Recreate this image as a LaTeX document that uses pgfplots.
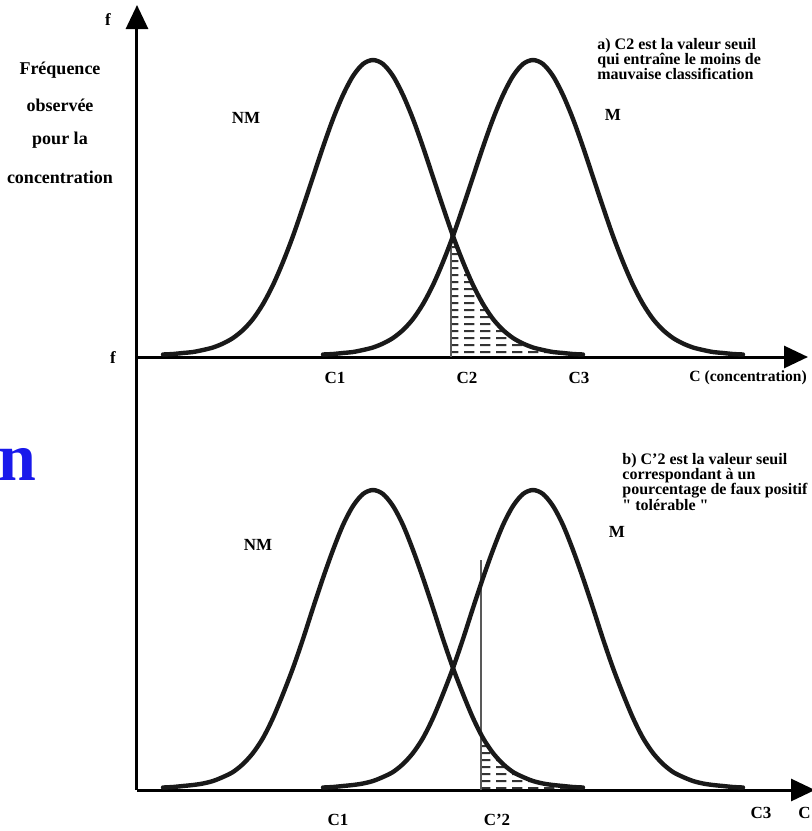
\documentclass[border=0pt]{standalone}
\usepackage{fontspec}
\setmainfont{Liberation Serif}
\usepackage{pgfplots}
\pgfplotsset{compat=1.18}
\usetikzlibrary{arrows.meta,patterns}

% short horizontal dashes for the shaded error areas
\pgfdeclarepatternformonly{hdash}{\pgfpointorigin}{\pgfqpoint{8pt}{3.4pt}}{\pgfqpoint{8pt}{3.4pt}}{%
  \pgfpathrectangle{\pgfqpoint{0pt}{1pt}}{\pgfqpoint{5.5pt}{1pt}}\pgfusepath{fill}}

\definecolor{slideblue}{RGB}{25,25,235}
\tikzset{
  lbl/.style={font=\fontsize{8.5}{9}\selectfont\bfseries},
  big/.style={font=\fontsize{9}{9}\selectfont\bfseries},
  note/.style={font=\fontsize{8}{7.6}\selectfont\bfseries, align=left, anchor=north west, inner sep=0pt}
}
\pgfplotsset{
  panel/.style={scale only axis, axis lines=left, xtick=\empty, ytick=\empty,
    xmin=0, ymin=0, clip=false,
    axis line style={line width=1.5pt, -{Triangle[length=12pt,width=11pt]}}},
  curve/.style={smooth, mark=none, line width=2.2pt, color=black!90, line cap=round},
  seuil/.style={mark=none, line width=0.9pt, color=gray!70!black},
  hatch/.style={draw=none, pattern=hdash, pattern color=black!80}
}

\begin{document}
\begin{tikzpicture}

% ---------- a) ----------
\begin{axis}[panel, at={(0,0)}, anchor=south west,
    width=335.5pt, height=176pt, xmax=671, ymax=352]

\addplot[hatch] coordinates {
  (314,0)(314,125)(316,121)(326,95)(336,72)(346,53)(356,38)(366,27)(376,19)
  (386,13.5)(396,9.5)(406,7)(416,5)(426,4)(436,3)(446,2.5)(446,0)} \closedcycle;
\addplot[seuil] coordinates {(314,0)(314,125)};

% NM
\addplot[curve] coordinates {
  (26,2.5)(36,3)(46,4)(56,5)(66,7)(76,9.5)(86,13.5)(96,19)(106,27)(116,38)
  (126,53)(136,72)(146,95)(156,121)(166,150)(176,180)(186,210)(196,238)(206,262)
  (216,281)(226,293)(236,297)(246,293)(256,281)(266,262)(276,238)(286,210)
  (296,180)(306,150)(316,121)(326,95)(336,72)(346,53)(356,38)(366,27)(376,19)
  (386,13.5)(396,9.5)(406,7)(416,5)(426,4)(436,3)(446,2.5)};
% M
\addplot[curve] coordinates {
  (186,2.5)(196,3)(206,4)(216,5)(226,7)(236,9.5)(246,13.5)(256,19)(266,27)(276,38)
  (286,53)(296,72)(306,95)(316,121)(326,150)(336,180)(346,210)(356,238)(366,262)
  (376,281)(386,293)(396,297)(406,293)(416,281)(426,262)(436,238)(446,210)
  (456,180)(466,150)(476,121)(486,95)(496,72)(506,53)(516,38)(526,27)(536,19)
  (546,13.5)(556,9.5)(566,7)(576,5)(586,4)(596,3)(606,2.5)};

\node[lbl] at (axis cs:-29,337) {f};
\node[lbl] at (axis cs:-24,-1) {f};
\node[big] at (axis cs:-77,287) {Fréquence};
\node[big] at (axis cs:-77,252) {observée};
\node[big] at (axis cs:-77,217) {pour la};
\node[big] at (axis cs:-77,180) {concentration};

\node[lbl] at (axis cs:109,239) {NM};
\node[lbl] at (axis cs:476,242) {M};
\node[note] at (axis cs:460,319) {a) C2 est la valeur seuil\\qui entraîne le moins de\\mauvaise classification};

\node[lbl] at (axis cs:198,-21) {C1};
\node[lbl] at (axis cs:330,-21) {C2};
\node[lbl] at (axis cs:442,-21) {C3};
\node[lbl, font=\fontsize{7.8}{9}\selectfont\bfseries, anchor=west, inner sep=0pt]
  at (axis cs:552,-21) {C (concentration)};

\node[anchor=base east, inner sep=0pt, text=slideblue,
      font=\fontsize{34}{34}\selectfont\bfseries] at (axis cs:-100,-123) {n};

\coordinate (TL) at (axis cs:-137,357);
\coordinate (BR) at (axis cs:674,-474);
\end{axis}

% ---------- b) ----------
\begin{axis}[panel, at={(0,-216.5pt)}, anchor=south west,
    width=339pt, height=216.5pt, xmax=678, ymax=433,
    y axis line style={-}]

\addplot[hatch] coordinates {
  (344,0)(344,56)(346,52)(356,37)(366,26)(376,18)(386,13)(396,9)(406,6.5)
  (416,5)(426,4)(436,3)(446,2.5)(446,0)} \closedcycle;
\addplot[seuil] coordinates {(344,0)(344,230)};

% NM
\addplot[curve] coordinates {
  (26,2.5)(36,3)(46,4)(56,5)(66,6.5)(76,9)(86,13)(96,18)(106,26)(116,37)
  (126,52)(136,72)(146,96)(156,122)(166,151)(176,182)(186,212)(196,240)(206,265)
  (216,284)(226,296)(236,300)(246,296)(256,284)(266,265)(276,240)(286,212)
  (296,182)(306,151)(316,122)(326,96)(336,72)(346,52)(356,37)(366,26)(376,18)
  (386,13)(396,9)(406,6.5)(416,5)(426,4)(436,3)(446,2.5)};
% M
\addplot[curve] coordinates {
  (186,2.5)(196,3)(206,4)(216,5)(226,6.5)(236,9)(246,13)(256,18)(266,26)(276,37)
  (286,52)(296,72)(306,96)(316,122)(326,151)(336,182)(346,212)(356,240)(366,265)
  (376,284)(386,296)(396,300)(406,296)(416,284)(426,265)(436,240)(446,212)
  (456,182)(466,151)(476,122)(486,96)(496,72)(506,52)(516,37)(526,26)(536,18)
  (546,13)(556,9)(566,6.5)(576,5)(586,4)(596,3)(606,2.5)};

\node[lbl] at (axis cs:121,245) {NM};
\node[lbl] at (axis cs:480,258) {M};
\node[note] at (axis cs:485,337) {b) C'2 est la valeur seuil\\correspondant à un\\pourcentage de faux positif\\\textquotedbl{} tolérable \textquotedbl};

\node[lbl] at (axis cs:201,-30) {C1};
\node[lbl] at (axis cs:360,-30) {C'2};
\node[lbl] at (axis cs:624,-23) {C3};
\node[lbl, anchor=west, inner sep=0pt] at (axis cs:661,-23) {C};
\end{axis}

\pgfresetboundingbox
\useasboundingbox (TL) rectangle (BR);
\end{tikzpicture}
\end{document}
